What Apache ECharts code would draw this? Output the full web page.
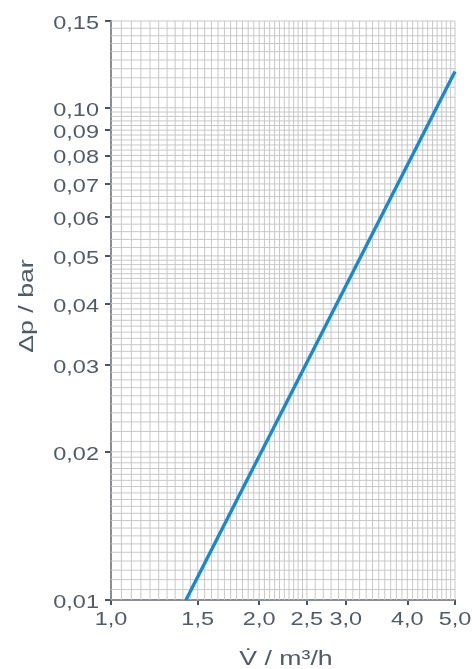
<!DOCTYPE html>
<html>
<head>
<meta charset="utf-8">
<script src="https://cdn.jsdelivr.net/npm/echarts@6/dist/echarts.min.js"></script>
<style>
  html, body { margin: 0; padding: 0; background: #ffffff; overflow: hidden; width: 472px; height: 669px; }
  #chart { position: absolute; left: 0; top: 0; width: 472px; height: 669px; }
</style>
</head>
<body>
<div id="chart"></div>
<script>
// Pressure drop versus volume flow, log-log chart paper
const xTickValues = [1.0, 1.5, 2.0, 2.5, 3.0, 4.0, 5.0];
const yTickValues = [0.01, 0.02, 0.03, 0.04, 0.05, 0.06, 0.07, 0.08, 0.09, 0.10, 0.15];

// characteristic curve (straight line in log-log)
const flowValues = [1.42, 5.0];
const dpValues = [0.01, 0.1185];

// grid line ranges: [start, end, step]
const xGridRanges = [[1.0, 2.5, 0.05], [2.5, 5.0, 0.1]];
const yGridRanges = [[0.01, 0.02, 0.0005], [0.02, 0.05, 0.001], [0.05, 0.10, 0.002], [0.10, 0.15, 0.005]];

const X_MIN = 1.0, X_MAX = 5.0, Y_MIN = 0.01, Y_MAX = 0.15;

function expand(ranges) {
  const out = [];
  ranges.forEach(([a, b, s]) => {
    const n = Math.round((b - a) / s);
    for (let i = 0; i <= n; i++) {
      const v = +(a + i * s).toFixed(6);
      if (!out.some(o => Math.abs(o - v) < 1e-9)) out.push(v);
    }
  });
  return out;
}
const xGrid = expand(xGridRanges);
const yGrid = expand(yGridRanges);

const textColor = '#4f5b67';
const axisColor = '#4a5562';
const gridColor = '#c8c8c8';
const fontFamily = '"Liberation Sans", Arial, sans-serif';
const labelSize = 18.5;
const stretch = 1.27;   // wide lettering

const chart = echarts.init(document.getElementById('chart'));

function vLine(params, api) {
  const v = api.value(0);
  const p1 = api.coord([v, Y_MIN]);
  const p2 = api.coord([v, Y_MAX]);
  return { type: 'line', shape: { x1: p1[0], y1: p1[1], x2: p2[0], y2: p2[1] },
           style: { stroke: gridColor, lineWidth: 1 } };
}
function hLine(params, api) {
  const v = api.value(1);
  const p1 = api.coord([X_MIN, v]);
  const p2 = api.coord([X_MAX, v]);
  return { type: 'line', shape: { x1: p1[0], y1: p1[1], x2: p2[0], y2: p2[1] },
           style: { stroke: gridColor, lineWidth: 1 } };
}
function xLabel(params, api) {
  const v = api.value(0);
  const p = api.coord([v, Y_MIN]);
  return { type: 'text', x: p[0], y: p[1] + 20, scaleX: stretch,
           style: { text: v.toFixed(1).replace('.', ','), fill: textColor,
                    fontSize: labelSize, fontFamily, align: 'center', verticalAlign: 'middle' } };
}
function yLabel(params, api) {
  const v = api.value(1);
  const p = api.coord([X_MIN, v]);
  return { type: 'text', x: p[0] - 12, y: p[1] + 3, scaleX: stretch,
           style: { text: v.toFixed(2).replace('.', ','), fill: textColor,
                    fontSize: labelSize, fontFamily, align: 'right', verticalAlign: 'middle' } };
}

chart.setOption({
  animation: false,
  backgroundColor: '#ffffff',
  grid: { left: 111, right: 17, top: 21, bottom: 69, containLabel: false },
  xAxis: {
    type: 'log', logBase: 10, min: X_MIN, max: X_MAX,
    axisLine: { show: true, lineStyle: { color: axisColor, width: 2 } },
    axisTick: { show: true, length: 5, customValues: xTickValues, lineStyle: { color: axisColor, width: 2 } },
    axisLabel: { show: false },
    splitLine: { show: false }, minorTick: { show: false }
  },
  yAxis: {
    type: 'log', logBase: 10, min: Y_MIN, max: Y_MAX,
    axisLine: { show: true, lineStyle: { color: axisColor, width: 2 } },
    axisTick: { show: true, length: 6, customValues: yTickValues, lineStyle: { color: axisColor, width: 2 } },
    axisLabel: { show: false },
    splitLine: { show: false }, minorTick: { show: false }
  },
  graphic: [
    { type: 'text', x: 286, y: 659, scaleX: stretch, silent: true,
      style: { text: 'V\u0307 / m³/h', fill: textColor, fontSize: 21, fontFamily,
               align: 'center', verticalAlign: 'middle' } },
    { type: 'text', x: 27, y: 306, rotation: Math.PI / 2, scaleX: stretch, silent: true,
      style: { text: 'Δp / bar', fill: textColor, fontSize: 21, fontFamily,
               align: 'center', verticalAlign: 'middle' } }
  ],
  series: [
    { type: 'custom', silent: true, z: 1, renderItem: vLine,
      data: xGrid.map(v => [v, Y_MIN]), clip: false },
    { type: 'custom', silent: true, z: 1, renderItem: hLine,
      data: yGrid.map(v => [X_MIN, v]), clip: false },
    { type: 'custom', silent: true, z: 3, renderItem: xLabel,
      data: xTickValues.map(v => [v, Y_MIN]), clip: false },
    { type: 'custom', silent: true, z: 3, renderItem: yLabel,
      data: yTickValues.map(v => [X_MIN, v]), clip: false },
    { type: 'line', z: 5, symbol: 'none', silent: true,
      data: flowValues.map((v, i) => [v, dpValues[i]]),
      lineStyle: { color: '#1689cf', width: 3.4 } }
  ]
});
</script>
</body>
</html>
